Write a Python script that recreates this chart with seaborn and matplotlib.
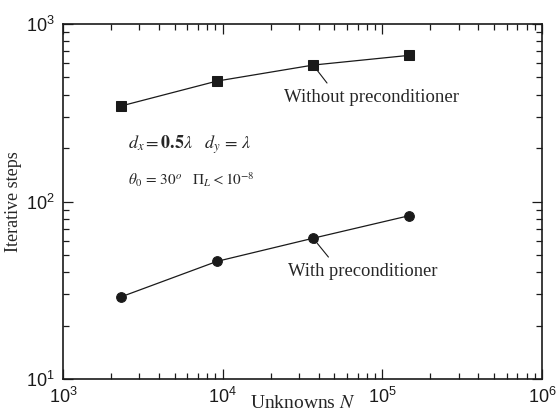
import matplotlib
matplotlib.use("Agg")
import matplotlib.pyplot as plt
import seaborn as sns
import numpy as np

unknowns = [2304, 9216, 36864, 147456]
steps_without = [345, 477, 587, 666]
steps_with = [29.0, 46.0, 62.1, 83.2]
label_without = "Without preconditioner"
label_with = "With preconditioner"

sns.set_theme(style="ticks")
plt.rcParams['font.family'] = ['Liberation Sans', 'DejaVu Sans']
plt.rcParams['mathtext.fontset'] = 'stix'

W, H = 556, 416
fig = plt.figure(figsize=(W / 100, H / 100), dpi=100)
ax = fig.add_axes([63 / W, 1 - 379 / H, 479 / W, 355 / H])

sns.lineplot(x=unknowns, y=steps_without, marker='s', color='k', markersize=7,
             linewidth=0.9, markeredgecolor='k', ax=ax)
sns.lineplot(x=unknowns, y=steps_with, marker='o', color='k', markersize=7,
             linewidth=0.9, markeredgecolor='k', ax=ax)

ax.set_xscale('log')
ax.set_yscale('log')
ax.set_xlim(1e3, 1e6)
ax.set_ylim(1e1, 1e3)

for s in ax.spines.values():
    s.set_linewidth(1.2)
    s.set_color('k')
ax.tick_params(which='both', direction='in', top=True, right=True, colors='k',
               labelsize=13, width=0.9)
ax.tick_params(which='major', length=7, pad=6)
ax.tick_params(which='minor', length=4)

serif = ['Liberation Serif', 'DejaVu Serif']
ax.set_ylabel('Iterative steps', fontsize=13, family=serif)
ax.yaxis.set_label_coords(-0.085, 0.5)
ax.set_xlabel('Unknowns $N$', fontsize=14, family=serif)
ax.xaxis.set_label_coords(0.5, -0.045)

ax.annotate(label_without, xy=(unknowns[2], steps_without[2]), xytext=(284, H - 97),
            textcoords='figure pixels', fontsize=13.5, family=serif,
            ha='left', va='center',
            arrowprops=dict(arrowstyle='-|>', color='k', lw=0.8, mutation_scale=7,
                            shrinkA=2, shrinkB=0, relpos=(0.27, 1.0)))
ax.annotate(label_with, xy=(unknowns[2], steps_with[2]), xytext=(288, H - 271),
            textcoords='figure pixels', fontsize=13.3, family=serif,
            ha='left', va='center',
            arrowprops=dict(arrowstyle='-|>', color='k', lw=0.8, mutation_scale=7,
                            shrinkA=2, shrinkB=0, relpos=(0.3, 1.0)))

fig.text(128 / W, 1 - 145 / H, r'$d_x = \mathbf{0.5}\lambda\ \ \ d_y\,=\,\lambda$',
         fontsize=13, ha='left', va='center')
fig.text(128 / W, 1 - 180 / H, r'$\theta_0\,=\,30^o\ \ \ \Pi_L < 10^{-8}$',
         fontsize=11, ha='left', va='center')

fig.savefig('out.png', dpi=100)
